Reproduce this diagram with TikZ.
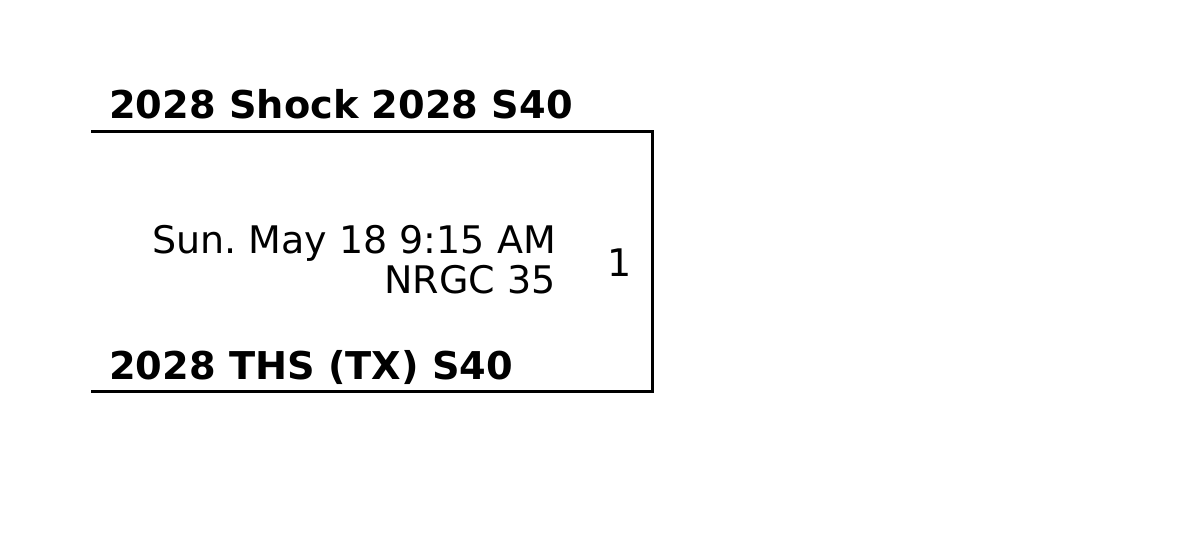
\documentclass[tikz,border=0pt]{standalone}
\usepackage{fontspec}
\setmainfont{DejaVu Sans}
\frenchspacing
\begin{document}
\begin{tikzpicture}[x=1pt,y=-1pt,
  team/.style={anchor=base west,inner sep=0pt,font=\fontsize{38.3}{45}\selectfont\bfseries},
  info/.style={anchor=base east,inner sep=0pt,font=\fontsize{38}{45}\selectfont},
  seed/.style={anchor=base,inner sep=0pt,font=\fontsize{38}{45}\selectfont},
  bracket/.style={line width=3.4pt,line join=miter}]
\useasboundingbox (0,0) rectangle (1186,549);
\coordinate (tl) at (91,131.5);
\coordinate (tr) at (652.5,131.5);
\coordinate (br) at (652.5,391.5);
\coordinate (bl) at (91,391.5);
\node[team] (top) at (109,118.5) {2028 Shock 2028 S40};
\node[team] (bot) at (109,379.5) {2028 THS (TX) S40};
\node[info] (date) at (556,253) {Sun.\ May 18 9:15 AM};
\node[info] (venue) at (556,293) {NRGC 35};
\node[seed] (game) at (620,276) {1};
\draw[bracket] (tl) -- (tr) -- (br) -- (bl);
\end{tikzpicture}
\end{document}
